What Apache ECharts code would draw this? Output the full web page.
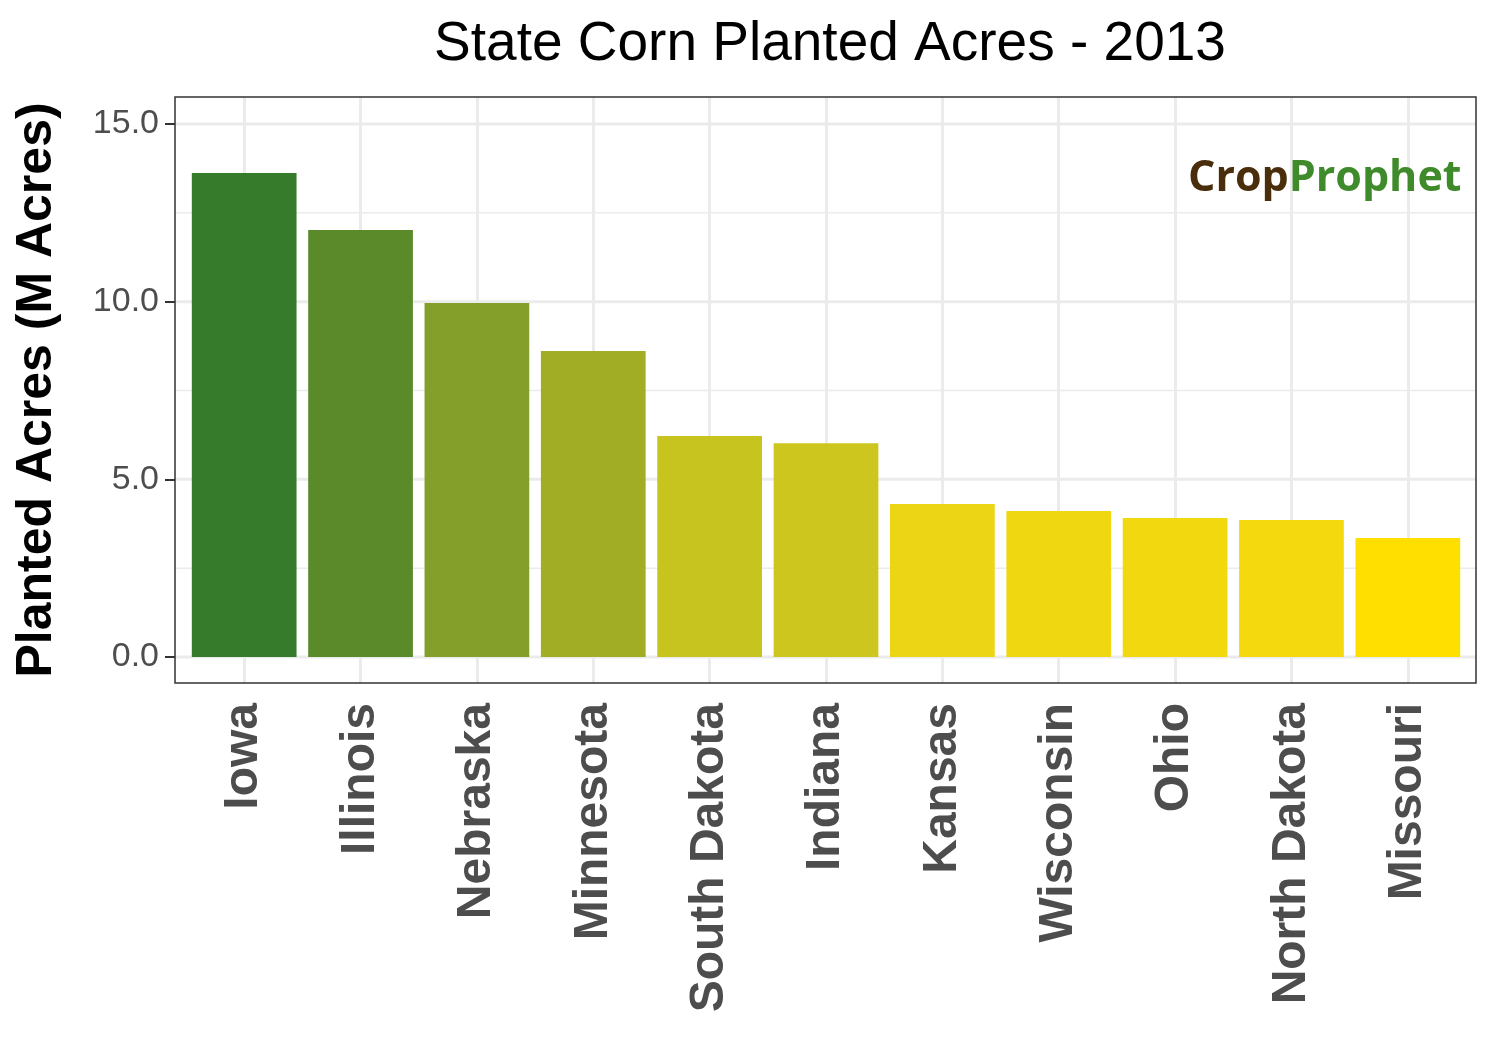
<!DOCTYPE html>
<html><head><meta charset="utf-8">
<script src="https://cdn.jsdelivr.net/npm/echarts@6/dist/echarts.min.js"></script>
<style>body{margin:0}#c{width:1500px;height:1050px}</style></head>
<body><div id="c"></div>
<script>
var states = ['Iowa','Illinois','Nebraska','Minnesota','South Dakota','Indiana','Kansas','Wisconsin','Ohio','North Dakota','Missouri'];
var acres = [13.62,12.02,9.96,8.61,6.22,6.02,4.31,4.11,3.91,3.86,3.35];
var barColors = ['#367a2c','#5b8a2b','#84a02a','#a0ad25','#c7c31f','#cdc61e','#ecd514','#efd712','#f2d80f','#f3d90e','#ffdf00'];
var majorTicks = [0,5,10,15];
var minorTicks = [2.5,7.5,12.5];

var chart = echarts.init(document.getElementById('c'));
var gridLines = [];
states.forEach(function(s){ gridLines.push({xAxis:s, lineStyle:{color:'#ebebeb',width:3,type:'solid'}}); });

chart.setOption({
  animation:false,
  title:{text:'State Corn Planted Acres - 2013',left:825,top:12,textAlign:'center',
    textStyle:{fontFamily:'Liberation Sans',fontWeight:'normal',fontSize:55,color:'#000'}},
  grid:{left:186,right:34,top:97,bottom:367,show:false},
  xAxis:{type:'category',data:states,
    axisLine:{show:false},
    axisTick:{alignWithLabel:true,length:10,lineStyle:{color:'#333',width:2}},
    axisLabel:{rotate:90,interval:0,margin:20,fontFamily:'Liberation Sans',fontWeight:'bold',fontSize:48,color:'#4d4d4d'},
    splitLine:{show:false}},
  yAxis:{type:'value',min:-0.73,max:15.76,offset:11,
    name:'Planted Acres (M Acres)',nameLocation:'middle',nameGap:113,
    nameTextStyle:{fontFamily:'Liberation Sans',fontWeight:'bold',fontSize:50,color:'#000'},
    axisLine:{show:false},
    axisTick:{show:true,customValues:majorTicks,length:10,lineStyle:{color:'#333',width:2}},
    axisLabel:{customValues:majorTicks,margin:16,fontFamily:'Liberation Sans',fontSize:34,color:'#4d4d4d',
      formatter:function(v){return v.toFixed(1);}},
    splitLine:{show:false}},
  series:[
    {type:'line',data:[],z:1,markLine:{z:0,silent:true,symbol:'none',label:{show:false},data:gridLines}},
    {type:'bar',z:5,barCategoryGap:'10%',
     data:acres.map(function(v,i){return {value:v,itemStyle:{color:barColors[i]}};})}
  ]
});

// horizontal grid lines across the full panel, placed through the y scale
var graphics = [];
majorTicks.concat(minorTicks).forEach(function(v){
  var y = chart.convertToPixel({yAxisIndex:0}, v);
  graphics.push({type:'line',z:-1,silent:true,shape:{x1:175,y1:y,x2:1476,y2:y},
    style:{stroke:'#ebebeb',lineWidth:majorTicks.indexOf(v) >= 0 ? 3 : 1.5}});
});
graphics.push({type:'rect',z:100,silent:true,shape:{x:175,y:97,width:1301,height:586},
  style:{fill:null,stroke:'#333',lineWidth:1.5}});
graphics.push({type:'text',left:1188,top:157,z:10,style:{
  rich:{a:{fill:'#4a2e0c',fontSize:43,fontFamily:'Open Sans',fontWeight:'bold'},
        b:{fill:'#3f8a2a',fontSize:43,fontFamily:'Open Sans',fontWeight:'bold'}},
  text:'{a|Crop}{b|Prophet}'}});
chart.setOption({graphic:graphics});
</script></body></html>
